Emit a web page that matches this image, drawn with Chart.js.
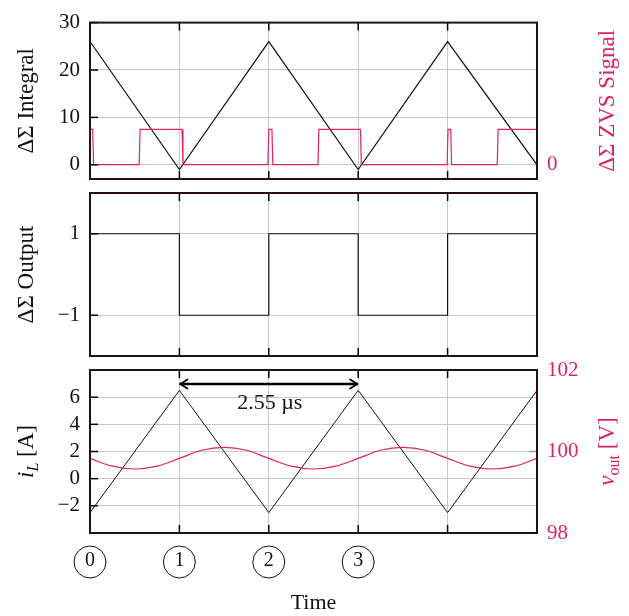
<!DOCTYPE html>
<html>
<head>
<meta charset="utf-8">
<script src="https://cdn.jsdelivr.net/npm/chart.js@4.4.1/dist/chart.umd.min.js"></script>
<style>
  html, body { margin: 0; padding: 0; background: #fff; }
  #wrap { position: relative; width: 629px; height: 616px; }
  #wrap canvas { position: absolute; left: 0; top: 0; }
</style>
</head>
<body>
<div id="wrap">
  <canvas id="chartIntegral" width="629" height="616"></canvas>
  <canvas id="chartOutput" width="629" height="616"></canvas>
  <canvas id="chartCurrent" width="629" height="616"></canvas>
</div>
<script>
// values, time in switching-period units
var timeTicks = [0, 1, 2, 3, 4, 5];
var stateLabels = ["0", "1", "2", "3"];

var integralTime = [0, 1, 2, 3, 4, 5];
var integralValues = [26, -1, 26, -1, 26, 0];
var integralTicks = [0, 10, 20, 30];

var zvsTime = [0, 0.03, 0.04, 0.55, 0.56, 1.03, 1.04, 1.99, 2.0, 2.035, 2.045, 2.55, 2.56, 3.025, 3.035, 3.995, 4.005, 4.035, 4.045, 4.555, 4.565, 5];
var zvsValues = [1, 1, 0, 0, 1, 1, 0, 0, 1, 1, 0, 0, 1, 1, 0, 0, 1, 1, 0, 0, 1, 1];
var zvsTicks = [0];

var outputTime = [0, 1, 1, 2, 2, 3, 3, 4, 4, 5];
var outputValues = [1, 1, -1, -1, 1, 1, -1, -1, 1, 1];
var outputTicks = [-1, 1];

var currentTime = [0, 1, 2, 3, 4, 5];
var currentValues = [-2.5, 6.5, -2.5, 6.5, -2.5, 6.5];
var currentTicks = [-2, 0, 2, 4, 6];

var voltageTime = [0, 0.25, 0.5, 0.75, 1, 1.25, 1.5, 1.75, 2, 2.25, 2.5, 2.75, 3, 3.25, 3.5, 3.75, 4, 4.25, 4.5, 4.75, 5];
var voltageValues = [99.83, 99.64, 99.57, 99.64, 99.83, 100.03, 100.1, 100.03, 99.83, 99.64, 99.57, 99.64, 99.83, 100.03, 100.1, 100.03, 99.83, 99.64, 99.57, 99.64, 99.83];
var voltageTicks = [98, 100, 102];

var periodFrom = 1;
var periodTo = 3;
var periodLabel = "2.55 µs";

// ---- styling ----
var serif = "'Liberation Serif', 'DejaVu Serif', serif";
var pink = "#dc2360";
var gridGrey = "#c9c9c9";
var frameColor = "#24101a";

Chart.defaults.font.family = serif;
Chart.defaults.font.size = 21;
Chart.defaults.color = "#111";

function pts(xs, ys) {
    return xs.map(function (x, i) { return { x: x, y: ys[i] }; });
}

function fmt(v) {
    return v < 0 ? "\u2212" + Math.abs(v) : String(v);
}

function timeScale(showLabels) {
    return {
        type: "linear",
        min: 0,
        max: 5,
        afterBuildTicks: function (s) { s.ticks = timeTicks.map(function (v) { return { value: v }; }); },
        afterFit: function (s) { s.height = showLabels ? 83 : 0; },
        grid: { color: gridGrey, lineWidth: 1, drawTicks: false },
        border: { display: false },
        ticks: {
            display: showLabels,
            padding: 16,
            maxRotation: 0,
            autoSkip: false,
            color: "#111",
            font: { size: 20 },
            callback: function (v) { return stateLabels[v] || ""; },
        },
        title: {
            display: showLabels,
            text: "Time",
            color: "#111",
            font: { size: 22 },
            padding: { top: 0, bottom: 0 },
        },
    };
}

function leftScale(min, max, ticks) {
    return {
        position: "left",
        min: min,
        max: max,
        afterBuildTicks: function (s) { s.ticks = ticks.map(function (v) { return { value: v }; }); },
        afterFit: function (s) { s.width = 90; },
        grid: { color: gridGrey, lineWidth: 1, drawTicks: false },
        border: { display: false },
        ticks: { padding: 10, color: "#111", callback: fmt },
    };
}

function rightScale(min, max, ticks) {
    return {
        position: "right",
        min: min,
        max: max,
        afterBuildTicks: function (s) { s.ticks = ticks.map(function (v) { return { value: v }; }); },
        afterFit: function (s) { s.width = 92; },
        grid: { display: false, drawTicks: false },
        border: { display: false },
        ticks: { padding: 10, color: pink, callback: fmt },
    };
}

// rotated axis title, parts = [{t, italic, sub}]
function drawTitle(ctx, parts, cx, cy, color, size) {
    ctx.save();
    ctx.fillStyle = color;
    ctx.textBaseline = "alphabetic";
    var widths = parts.map(function (p) {
        ctx.font = (p.italic ? "italic " : "") + (p.sub ? size * 0.7 : size) + "px " + serif;
        return ctx.measureText(p.t).width;
    });
    var total = widths.reduce(function (a, b) { return a + b; }, 0);
    ctx.translate(cx, cy);
    ctx.rotate(-Math.PI / 2);
    var x = -total / 2;
    parts.forEach(function (p, i) {
        ctx.font = (p.italic ? "italic " : "") + (p.sub ? size * 0.7 : size) + "px " + serif;
        ctx.fillText(p.t, x, size * 0.35 + (p.sub ? size * 0.2 : 0));
        x += widths[i];
    });
    ctx.restore();
}

function line(ctx, x1, y1, x2, y2) {
    ctx.beginPath();
    ctx.moveTo(x1, y1);
    ctx.lineTo(x2, y2);
    ctx.stroke();
}

// frame, inward ticks and titles
var framePlugin = {
    id: "frame",
    afterDraw: function (chart, args, opts) {
        var a = chart.chartArea;
        var ctx = chart.ctx;
        var xs = chart.scales.x;
        var ys = chart.scales.y;
        ctx.save();
        ctx.strokeStyle = "#000";
        ctx.lineWidth = 1.5;
        xs.ticks.forEach(function (t) {
            if (t.value <= xs.min || t.value >= xs.max) return;
            var px = xs.getPixelForValue(t.value);
            line(ctx, px, a.top, px, a.top + 8);
            line(ctx, px, a.bottom, px, a.bottom - 8);
        });
        ys.ticks.forEach(function (t) {
            var py = ys.getPixelForValue(t.value);
            line(ctx, a.left, py, a.left + 8, py);
        });
        if (opts.rightTicks && chart.scales.y2) {
            ctx.strokeStyle = "#999";
            chart.scales.y2.ticks.forEach(function (t) {
                if (t.value <= chart.scales.y2.min || t.value >= chart.scales.y2.max) return;
                var py = chart.scales.y2.getPixelForValue(t.value);
                line(ctx, a.right, py, a.right - 8, py);
            });
        }
        ctx.strokeStyle = frameColor;
        ctx.lineWidth = 2;
        ctx.strokeRect(a.left, a.top, a.right - a.left, a.bottom - a.top);
        ctx.restore();

        var cy = (a.top + a.bottom) / 2;
        if (opts.left) drawTitle(ctx, opts.left, 25, cy, "#111", 23);
        if (opts.right) drawTitle(ctx, opts.right, 606, cy, pink, 23);
    },
};

// =============Top panel: integral + ZVS signal==============
new Chart(document.getElementById("chartIntegral"), {
    type: "line",
    data: {
        datasets: [
            {
                label: "ZVS Signal",
                data: pts(zvsTime, zvsValues),
                yAxisID: "y2",
                borderColor: pink,
                borderWidth: 1.2,
                pointRadius: 0,
            },
            {
                label: "Integral",
                data: pts(integralTime, integralValues),
                yAxisID: "y",
                borderColor: "#111",
                borderWidth: 1.2,
                pointRadius: 0,
            },
        ],
    },
    options: {
        responsive: false,
        animation: false,
        layout: { padding: { top: 15, bottom: 616 - 179, left: 0, right: 0 } },
        plugins: {
            legend: { display: false },
            tooltip: { enabled: false },
            frame: {
                left: [{ t: "ΔΣ Integral" }],
                right: [{ t: "ΔΣ ZVS Signal" }],
            },
        },
        scales: {
            x: timeScale(false),
            y: leftScale(-3, 30, integralTicks),
            y2: rightScale(-0.405, 4.03, zvsTicks),
        },
    },
    plugins: [framePlugin],
});

// =============Middle panel: output==============
new Chart(document.getElementById("chartOutput"), {
    type: "line",
    data: {
        datasets: [
            {
                label: "Output",
                data: pts(outputTime, outputValues),
                borderColor: "#111",
                borderWidth: 1.2,
                pointRadius: 0,
            },
        ],
    },
    options: {
        responsive: false,
        animation: false,
        layout: { padding: { top: 193, bottom: 616 - 356, left: 0, right: 92 } },
        plugins: {
            legend: { display: false },
            tooltip: { enabled: false },
            frame: { left: [{ t: "ΔΣ Output" }] },
        },
        scales: {
            x: timeScale(false),
            y: leftScale(-2, 2, outputTicks),
        },
    },
    plugins: [framePlugin],
});

// =============Bottom panel: inductor current + output voltage==============
var extrasPlugin = {
    id: "extras",
    afterDraw: function (chart) {
        var ctx = chart.ctx;
        var a = chart.chartArea;
        var xs = chart.scales.x;
        ctx.save();
        // period arrow
        var x1 = xs.getPixelForValue(periodFrom);
        var x2 = xs.getPixelForValue(periodTo);
        var yy = a.top + 14;
        ctx.strokeStyle = "#000";
        ctx.lineWidth = 2.4;
        ctx.lineCap = "round";
        line(ctx, x1 + 1, yy, x2 - 1, yy);
        ctx.lineWidth = 1.8;
        line(ctx, x1 + 1, yy, x1 + 8, yy - 4.5);
        line(ctx, x1 + 1, yy, x1 + 8, yy + 4.5);
        line(ctx, x2 - 1, yy, x2 - 8, yy - 4.5);
        line(ctx, x2 - 1, yy, x2 - 8, yy + 4.5);
        ctx.fillStyle = "#111";
        ctx.font = "22px " + serif;
        ctx.textAlign = "center";
        ctx.textBaseline = "middle";
        ctx.fillText(periodLabel, xs.getPixelForValue((periodFrom + periodTo) / 2) + 1, a.top + 33);
        // circled state numbers
        ctx.lineWidth = 1;
        ctx.strokeStyle = "#111";
        xs.ticks.forEach(function (t) {
            if (!stateLabels[t.value]) return;
            ctx.beginPath();
            ctx.ellipse(xs.getPixelForValue(t.value), a.bottom + 29, 16, 16, 0, 0, Math.PI * 2);
            ctx.stroke();
        });
        ctx.restore();
    },
};

new Chart(document.getElementById("chartCurrent"), {
    type: "line",
    data: {
        datasets: [
            {
                label: "vout",
                data: pts(voltageTime, voltageValues),
                yAxisID: "y2",
                borderColor: pink,
                borderWidth: 1.2,
                pointRadius: 0,
                cubicInterpolationMode: "monotone",
            },
            {
                label: "iL",
                data: pts(currentTime, currentValues),
                yAxisID: "y",
                borderColor: "#111",
                borderWidth: 1,
                pointRadius: 0,
            },
        ],
    },
    options: {
        responsive: false,
        animation: false,
        layout: { padding: { top: 370, bottom: 0, left: 0, right: 0 } },
        plugins: {
            legend: { display: false },
            tooltip: { enabled: false },
            frame: {
                rightTicks: true,
                left: [{ t: "i", italic: true }, { t: "L", italic: true, sub: true }, { t: " [A]" }],
                right: [{ t: "v", italic: true }, { t: "out", sub: true }, { t: " [V]" }],
            },
        },
        scales: {
            x: timeScale(true),
            y: leftScale(-4, 8, currentTicks),
            y2: rightScale(98, 102, voltageTicks),
        },
    },
    plugins: [framePlugin, extrasPlugin],
});
</script>
</body>
</html>
